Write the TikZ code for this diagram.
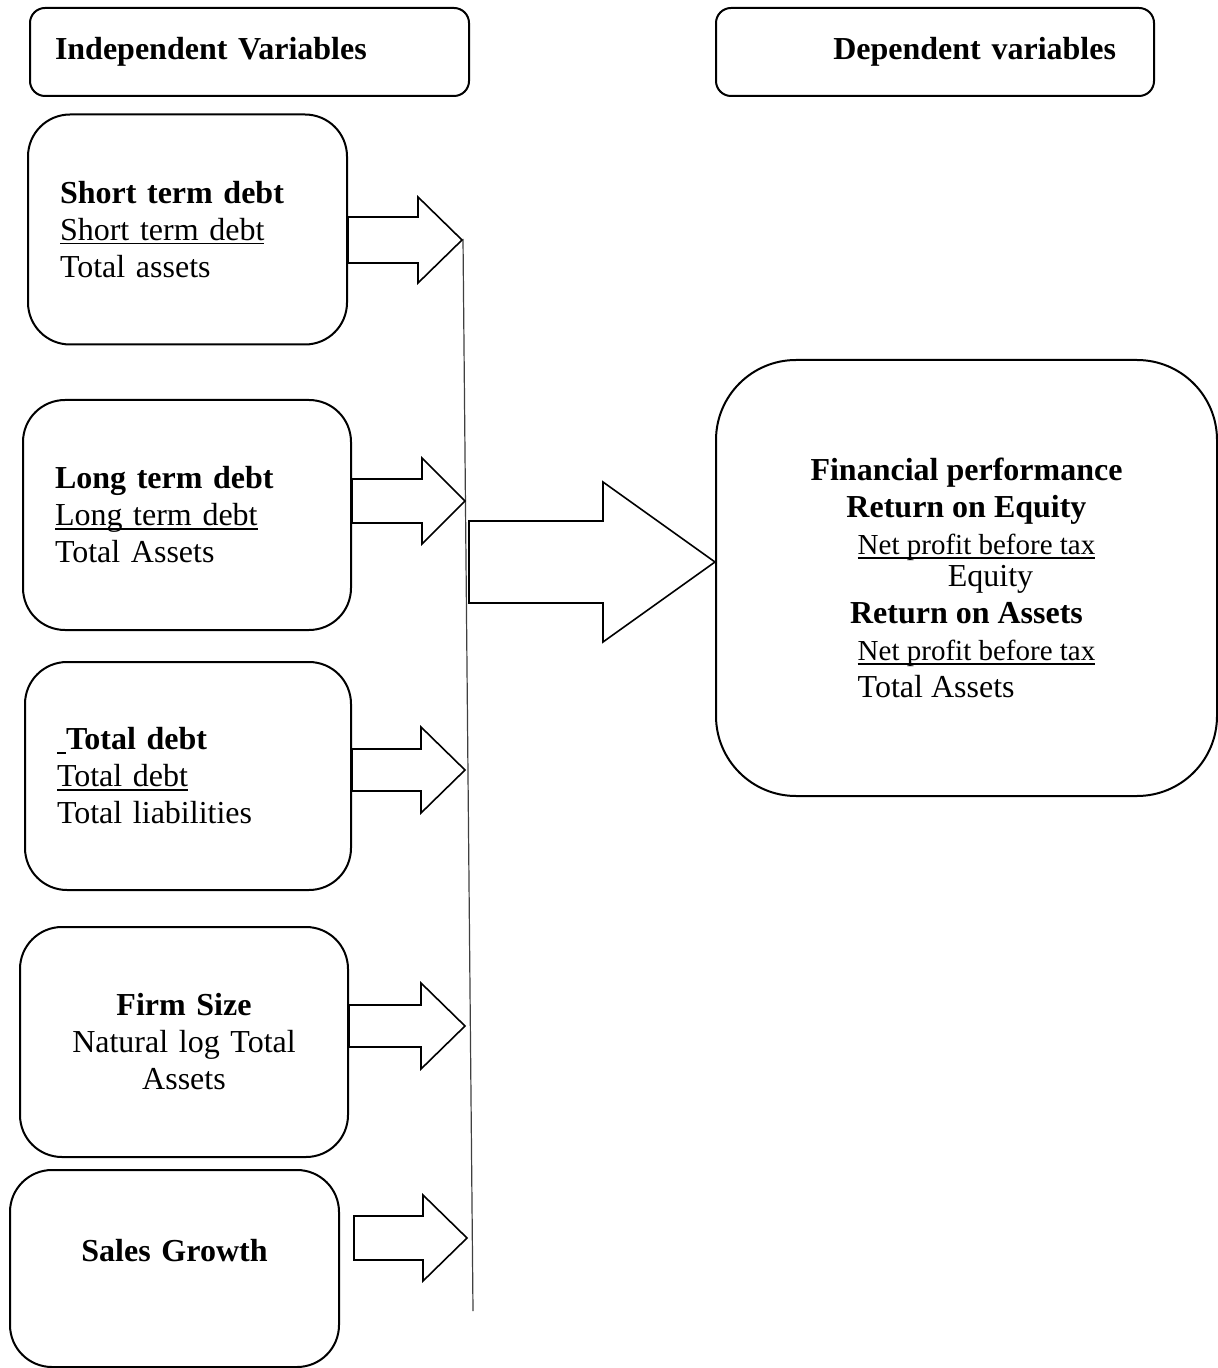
\documentclass[tikz,border=0pt]{standalone}
\usepackage{fontspec}
\setmainfont{Liberation Serif}
\usepackage{tikz}
\usetikzlibrary{calc}
\newsavebox{\ulbox}
\newcommand{\ulined}[1]{\leavevmode\sbox{\ulbox}{#1}\rlap{\rule[-2pt]{\wd\ulbox}{0.8pt}}\usebox{\ulbox}}
\newcommand{\netprofit}{{\fontsize{14.5pt}{18.5pt}\selectfont\ulined{Net profit before tax}}}
% block arrow: start x from #1, tip at #2, shaft/head half widths, head length
\newcommand{\fatarrow}[5]{%
  \draw[fatline] let \p1=(#1), \p2=(#2) in
    (\x1,\y2+#3) -- (\x2-#5,\y2+#3) -- (\x2-#5,\y2+#4) -- (\p2)
    -- (\x2-#5,\y2-#4) -- (\x2-#5,\y2-#3) -- (\x1,\y2-#3) -- cycle;}
\tikzset{
  headbox/.style={draw, rounded corners=7.5pt, line width=1pt, minimum height=44pt},
  varbox/.style={draw, rounded corners=21pt, line width=1pt, minimum height=115pt},
  perfbox/.style={draw, rounded corners=40pt, line width=1pt, minimum width=250.5pt,
                  minimum height=218pt, align=center},
  fatline/.style={line width=0.8pt, line join=miter, fill=white},
  axisline/.style={line width=0.6pt, draw=black!75}
}

\begin{document}
\begin{tikzpicture}[x=0.5pt, y=-0.5pt, font=\fontsize{16pt}{18.5pt}\selectfont]
  \useasboundingbox (0,0) rectangle (1218,1368);
  % headings
  \node[headbox, text width=194.5pt, inner xsep=12.5pt, align=left] (ivhead) at (249.5,52)
    {\textbf{Independent Variables}};
  \node[headbox, text width=181pt, inner xsep=19pt, align=right] (dvhead) at (935,52)
    {\textbf{Dependent variables}};
  % independent variables
  \node[varbox, text width=127.5pt, inner xsep=16pt, align=left] (sdebt) at (187.5,229.5)
    {\textbf{Short term debt}\\\ulined{Short term debt}\\Total assets};
  \node[varbox, text width=132pt, inner xsep=16pt, align=left] (ldebt) at (187,515)
    {\textbf{Long term debt}\\\ulined{Long term debt}\\Total Assets};
  \node[varbox, text width=131pt, inner xsep=16pt, align=left, minimum height=114pt] (tdebt) at (188,776)
    {\ulined{\hspace*{4.5pt}}\textbf{Total debt}\\\ulined{Total debt}\\Total liabilities};
  \node[varbox, text width=132pt, inner xsep=16pt, align=center] (fsize) at (184,1042)
    {\textbf{Firm Size}\\Natural log Total\\Assets};
  \node[varbox, text width=132.5pt, inner xsep=16pt, align=center, minimum height=98.5pt,
        text depth=18pt] (sales) at (174.5,1268.5)
    {\textbf{Sales Growth}};
  % dependent variable
  \node[perfbox] (perf) at (966.5,578)
    {\textbf{Financial performance}\\
     \textbf{Return on Equity}\\
     \hspace*{10pt}\netprofit\\[-2.5pt]
     \hspace*{24pt}Equity\\
     \textbf{Return on Assets}\\
     \hspace*{10pt}\netprofit\\
     \hspace*{10pt}\rlap{Total Assets}\hphantom{\netprofit}};
  % joining line
  \coordinate (ltop) at (463,239);
  \coordinate (lbot) at (473,1311);
  \coordinate (tip1) at (462,240);
  \coordinate (tip2) at (465,501);
  \coordinate (tip3) at (465,770);
  \coordinate (tip4) at (465,1026);
  \coordinate (tip5) at (467,1238);
  \coordinate (bstart) at (469,562);
  \draw[axisline] (ltop) -- (lbot);
  \fatarrow{sdebt.east}{tip1}{11.5pt}{21.5pt}{22pt}
  \fatarrow{ldebt.east}{tip2}{11pt}{21.5pt}{21.5pt}
  \fatarrow{tdebt.east}{tip3}{10.5pt}{21.5pt}{22pt}
  \fatarrow{fsize.east}{tip4}{10.5pt}{21.5pt}{22pt}
  \fatarrow{[xshift=7pt]sales.east}{tip5}{11pt}{21.5pt}{22pt}
  \fatarrow{bstart}{[yshift=8pt]perf.west}{20.5pt}{40pt}{56pt}
\end{tikzpicture}
\end{document}
